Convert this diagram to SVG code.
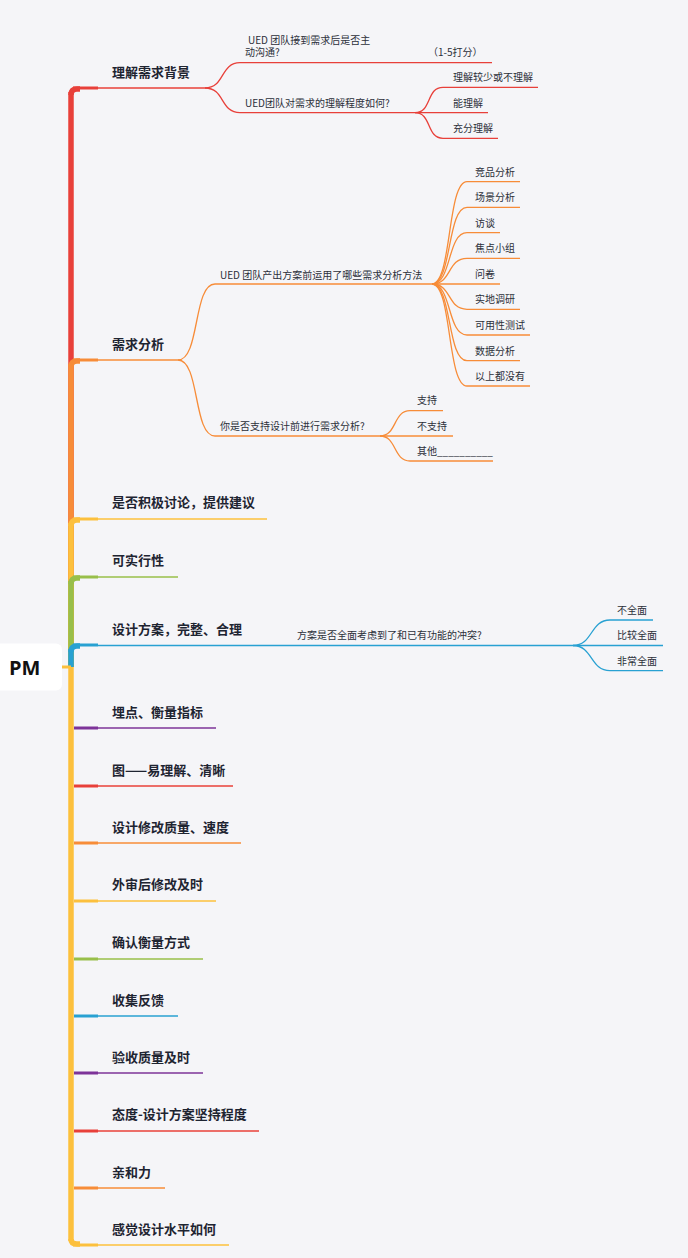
<svg xmlns="http://www.w3.org/2000/svg" width="688" height="1258" viewBox="0 0 688 1258">
<style>
.m{font-family:"Noto Sans CJK SC","Noto Sans",sans-serif;font-size:13px;font-weight:700;fill:#1e2431}
.c{font-family:"Noto Sans CJK SC","Noto Sans",sans-serif;font-size:10px;fill:#2c303a}
.tr{fill:none;stroke-width:5.5}
.st{fill:none;stroke-width:3;stroke-linecap:butt}
.l{fill:none;stroke-width:1.5}
.s{fill:none;stroke-width:1.3}
.red{stroke:#e8403a}.ora{stroke:#f78c38}.yel{stroke:#fcc03d}.gre{stroke:#98bf4a}.blu{stroke:#28a1d2}.pur{stroke:#7d3399}
</style>
<rect width="688" height="1258" fill="#f5f5f8"/>
<g id="connectors">
<!-- trunk top -->
<path class="tr red" d="M71 667V92"/>
<path class="tr ora" d="M71 667V364"/>
<path class="tr yel" d="M71 667V523"/>
<path class="tr gre" d="M71 667V581"/>
<path class="tr blu" d="M71 667V649"/>
<!-- trunk bottom -->
<path class="tr yel" d="M71 667V1241"/>
<path class="st yel" d="M62 667H71" stroke-width="6"/>
<!-- corners + stubs -->
<path class="tr red" d="M71 95Q71 89 77 89H80"/>
<path class="st red" d="M73 88H98"/>
<path class="tr ora" d="M71 367Q71 361 77 361H80"/>
<path class="st ora" d="M73 360H98"/>
<path class="tr yel" d="M71 526Q71 520 77 520H80"/>
<path class="st yel" d="M73 519H98"/>
<path class="tr gre" d="M71 584Q71 578 77 578H80"/>
<path class="st gre" d="M73 577H98"/>
<path class="tr blu" d="M71 652Q71 646 77 646H80"/>
<path class="st blu" d="M73 645H98"/>
<path class="st pur" d="M74 728H98"/>
<path class="st red" d="M74 786H98"/>
<path class="st ora" d="M74 843H98"/>
<path class="st yel" d="M74 901H98"/>
<path class="st gre" d="M74 959H98"/>
<path class="st blu" d="M74 1016H98"/>
<path class="st pur" d="M74 1073H98"/>
<path class="st red" d="M74 1131H98"/>
<path class="st ora" d="M74 1188H98"/>
<path class="tr yel" d="M71 1239Q71 1244 77 1244H80"/>
<path class="st yel" d="M73 1245H98"/>
<!-- main thin lines -->
<path class="l red" d="M98 88H205"/>
<path class="l ora" d="M98 360H178"/>
<path class="l yel" d="M98 519H267"/>
<path class="l gre" d="M98 577H178"/>
<path class="l blu" d="M98 645.5H573"/>
<path class="l pur" d="M98 728H216"/>
<path class="l red" d="M98 786H233"/>
<path class="l ora" d="M98 843H241"/>
<path class="l yel" d="M98 901H216"/>
<path class="l gre" d="M98 959H203"/>
<path class="l blu" d="M98 1016H178"/>
<path class="l pur" d="M98 1073H203"/>
<path class="l red" d="M98 1131H259"/>
<path class="l ora" d="M98 1188H165"/>
<path class="l yel" d="M98 1245H229"/>
<!-- red children -->
<path class="s red" d="M205 88C225 88 220 62.7 240 62.7H492"/>
<path class="s red" d="M205 88C225 88 220 112.7 240 112.7H415"/>
<path class="s red" d="M415 112.7C432 112.7 426 87.3 443 87.3H538"/>
<path class="s red" d="M415 112.7H488"/>
<path class="s red" d="M415 112.7C432 112.7 426 138.3 443 138.3H498"/>
<!-- orange children -->
<path class="s ora" d="M178 360C200 360 193 284 215 284H432"/>
<path class="s ora" d="M178 360C200 360 193 436 215 436H380"/>
<path class="s ora" d="M432 284C452 284 447 181.7 467 181.7H520"/>
<path class="s ora" d="M432 284C452 284 447 207.3 467 207.3H520"/>
<path class="s ora" d="M432 284C452 284 447 232.7 467 232.7H500"/>
<path class="s ora" d="M432 284C452 284 447 258.3 467 258.3H520"/>
<path class="s ora" d="M432 284H500"/>
<path class="s ora" d="M432 284C452 284 447 309.3 467 309.3H520"/>
<path class="s ora" d="M432 284C452 284 447 335 467 335H530"/>
<path class="s ora" d="M432 284C452 284 447 360.7 467 360.7H520"/>
<path class="s ora" d="M432 284C452 284 447 386 467 386H530"/>
<path class="s ora" d="M380 436C397 436 393 410.7 410 410.7H443"/>
<path class="s ora" d="M380 436H453"/>
<path class="s ora" d="M380 436C397 436 393 461 410 461H493"/>
<!-- blue children -->
<path class="s blu" d="M573 645.5C593 645.5 590 620 610 620H653"/>
<path class="s blu" d="M573 645.5H663"/>
<path class="s blu" d="M573 645.5C593 645.5 590 670.7 610 670.7H663"/>
</g>
<g id="root"><rect x="-6" y="643.5" width="68" height="47" rx="6" fill="#ffffff"/><text x="9" y="674.5" font-family="'Open Sans',sans-serif" font-size="20" font-weight="700" fill="#111">PM</text></g>
<g id="n1"><text class="m" x="112" y="76.5">理解需求背景</text></g>
<g id="n1a"><text class="c" x="248" y="43.8">UED 团队接到需求后是否主</text><text class="c" x="245" y="56.4">动沟通?</text></g>
<g id="n1a1"><text class="c" x="428" y="56.4">（1-5打分）</text></g>
<g id="n1b"><text class="c" x="245" y="106.8">UED团队对需求的理解程度如何?</text></g>
<g id="n1b1"><text class="c" x="453" y="80.8">理解较少或不理解</text></g>
<g id="n1b2"><text class="c" x="453" y="106.8">能理解</text></g>
<g id="n1b3"><text class="c" x="453" y="131.8">充分理解</text></g>
<g id="n2"><text class="m" x="112" y="348.5">需求分析</text></g>
<g id="n2a"><text class="c" x="220" y="278.5">UED 团队产出方案前运用了哪些需求分析方法</text></g>
<g id="n2a1"><text class="c" x="475" y="176.2">竞品分析</text></g>
<g id="n2a2"><text class="c" x="475" y="200.8">场景分析</text></g>
<g id="n2a3"><text class="c" x="475" y="226.8">访谈</text></g>
<g id="n2a4"><text class="c" x="475" y="252.2">焦点小组</text></g>
<g id="n2a5"><text class="c" x="475" y="278.2">问卷</text></g>
<g id="n2a6"><text class="c" x="475" y="302.8">实地调研</text></g>
<g id="n2a7"><text class="c" x="475" y="328.5">可用性测试</text></g>
<g id="n2a8"><text class="c" x="475" y="354.8">数据分析</text></g>
<g id="n2a9"><text class="c" x="475" y="380.2">以上都没有</text></g>
<g id="n2b"><text class="c" x="220" y="430.2">你是否支持设计前进行需求分析?</text></g>
<g id="n2b1"><text class="c" x="417" y="404.2">支持</text></g>
<g id="n2b2"><text class="c" x="417" y="430.2">不支持</text></g>
<g id="n2b3"><text class="c" x="417" y="455.2">其他__________</text></g>
<g id="n3"><text class="m" x="112" y="507">是否积极讨论，提供建议</text></g>
<g id="n4"><text class="m" x="112" y="565">可实行性</text></g>
<g id="n5"><text class="m" x="112" y="634">设计方案，完整、合理</text></g>
<g id="n5a"><text class="c" x="297" y="639.2">方案是否全面考虑到了和已有功能的冲突?</text></g>
<g id="n5a1"><text class="c" x="617" y="614.2">不全面</text></g>
<g id="n5a2"><text class="c" x="617" y="639.2">比较全面</text></g>
<g id="n5a3"><text class="c" x="617" y="665.2">非常全面</text></g>
<g id="n6"><text class="m" x="112" y="717">埋点、衡量指标</text></g>
<g id="n7"><text class="m" x="112" y="774.5">图——易理解、清晰</text></g>
<g id="n8"><text class="m" x="112" y="832">设计修改质量、速度</text></g>
<g id="n9"><text class="m" x="112" y="888.5">外审后修改及时</text></g>
<g id="n10"><text class="m" x="112" y="947">确认衡量方式</text></g>
<g id="n11"><text class="m" x="112" y="1004.5">收集反馈</text></g>
<g id="n12"><text class="m" x="112" y="1062">验收质量及时</text></g>
<g id="n13"><text class="m" x="112" y="1118.5">态度-设计方案坚持程度</text></g>
<g id="n14"><text class="m" x="112" y="1177">亲和力</text></g>
<g id="n15"><text class="m" x="112" y="1234">感觉设计水平如何</text></g>
</svg>
